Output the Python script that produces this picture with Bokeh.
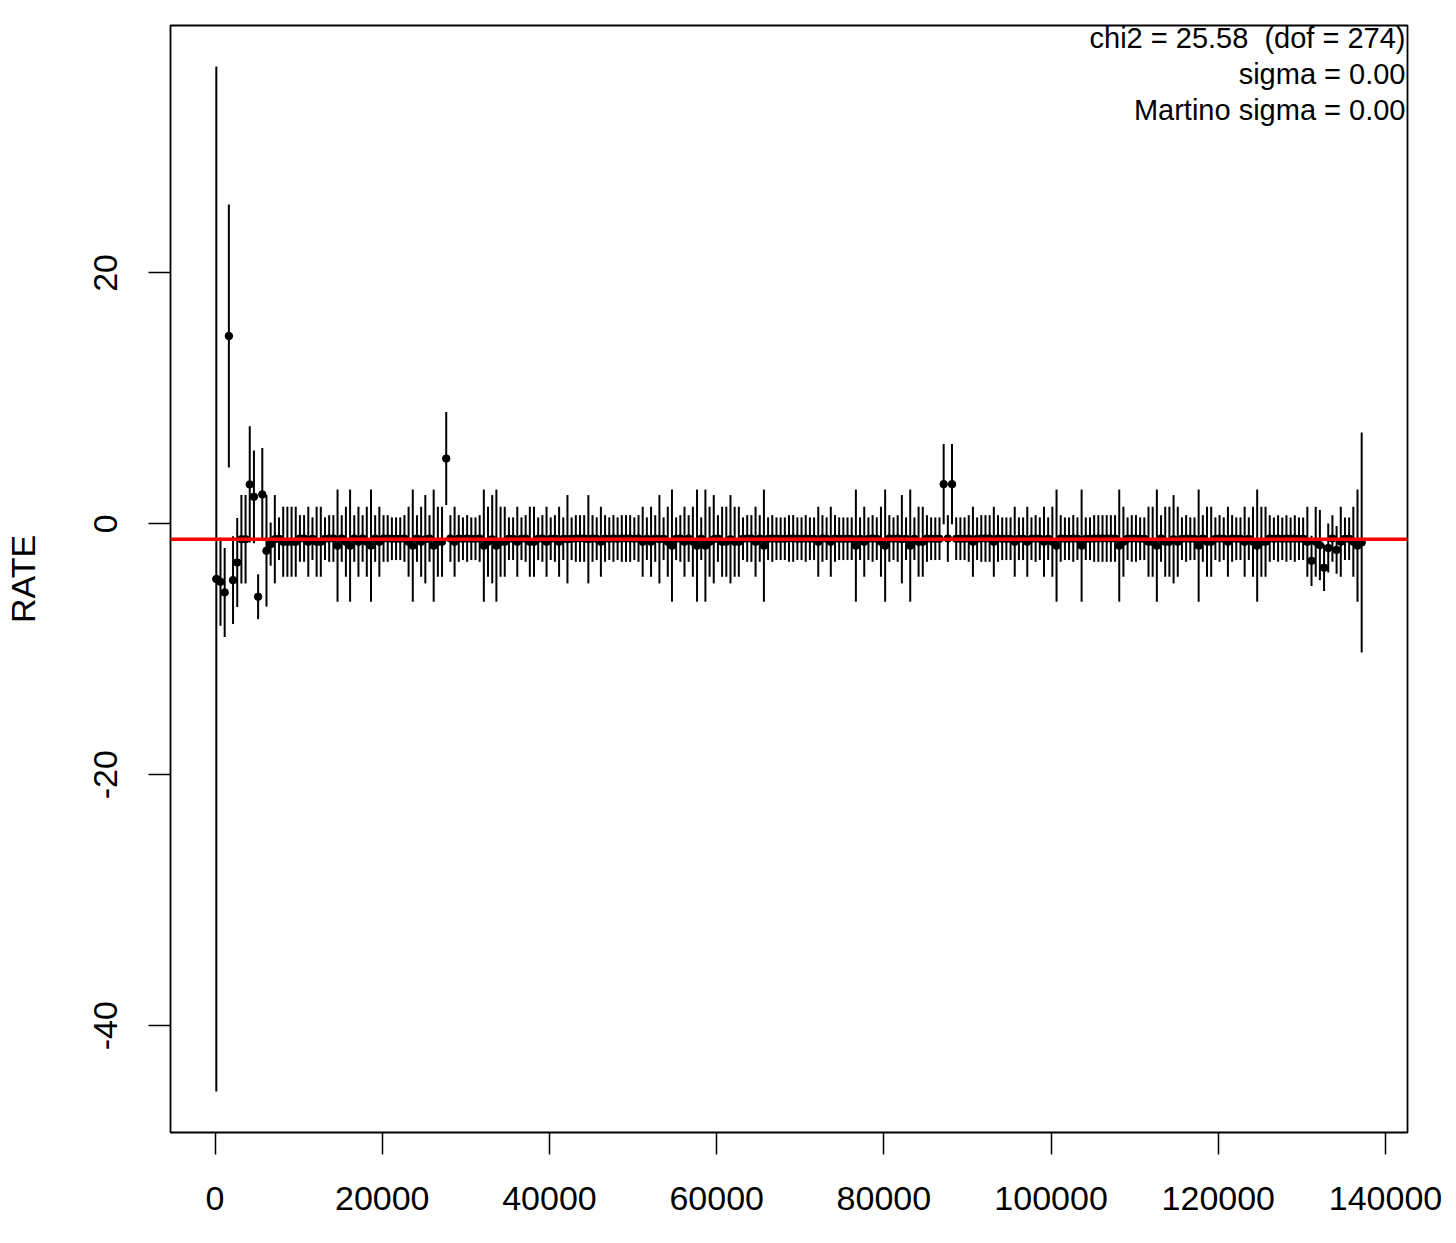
from bokeh.plotting import figure
from bokeh.models import Range1d, FixedTicker, Span, PrintfTickFormatter, ColumnDataSource
from bokeh.core.properties import value
from bokeh.embed import file_html
from bokeh.resources import INLINE

# ---- data ----
time_s = [
    150, 650, 1150, 1650, 2150, 2650, 3150, 3650, 4150, 4650,
    5150, 5650, 6150, 6650, 7150, 7650, 8150, 8650, 9150, 9650,
    10150, 10650, 11150, 11650, 12150, 12650, 13150, 13650, 14150, 14650,
    15150, 15650, 16150, 16650, 17150, 17650, 18150, 18650, 19150, 19650,
    20150, 20650, 21150, 21650, 22150, 22650, 23150, 23650, 24150, 24650,
    25150, 25650, 26150, 26650, 27150, 27650, 28150, 28650, 29150, 29650,
    30150, 30650, 31150, 31650, 32150, 32650, 33150, 33650, 34150, 34650,
    35150, 35650, 36150, 36650, 37150, 37650, 38150, 38650, 39150, 39650,
    40150, 40650, 41150, 41650, 42150, 42650, 43150, 43650, 44150, 44650,
    45150, 45650, 46150, 46650, 47150, 47650, 48150, 48650, 49150, 49650,
    50150, 50650, 51150, 51650, 52150, 52650, 53150, 53650, 54150, 54650,
    55150, 55650, 56150, 56650, 57150, 57650, 58150, 58650, 59150, 59650,
    60150, 60650, 61150, 61650, 62150, 62650, 63150, 63650, 64150, 64650,
    65150, 65650, 66150, 66650, 67150, 67650, 68150, 68650, 69150, 69650,
    70150, 70650, 71150, 71650, 72150, 72650, 73150, 73650, 74150, 74650,
    75150, 75650, 76150, 76650, 77150, 77650, 78150, 78650, 79150, 79650,
    80150, 80650, 81150, 81650, 82150, 82650, 83150, 83650, 84150, 84650,
    85150, 85650, 86150, 86650, 87150, 87650, 88150, 88650, 89150, 89650,
    90150, 90650, 91150, 91650, 92150, 92650, 93150, 93650, 94150, 94650,
    95150, 95650, 96150, 96650, 97150, 97650, 98150, 98650, 99150, 99650,
    100150, 100650, 101150, 101650, 102150, 102650, 103150, 103650, 104150, 104650,
    105150, 105650, 106150, 106650, 107150, 107650, 108150, 108650, 109150, 109650,
    110150, 110650, 111150, 111650, 112150, 112650, 113150, 113650, 114150, 114650,
    115150, 115650, 116150, 116650, 117150, 117650, 118150, 118650, 119150, 119650,
    120150, 120650, 121150, 121650, 122150, 122650, 123150, 123650, 124150, 124650,
    125150, 125650, 126150, 126650, 127150, 127650, 128150, 128650, 129150, 129650,
    130150, 130650, 131150, 131650, 132150, 132650, 133150, 133650, 134150, 134650,
    135150, 135650, 136150, 136650, 137150,
]

rate = [
    -4.40, -4.62, -5.47, 14.97, -4.49, -3.08, -1.23, -1.23, 3.14, 2.15,
    -5.81, 2.34, -2.15, -1.62, -1.23, -1.19, -1.43, -1.43, -1.43, -1.43,
    -1.17, -1.17, -1.43, -1.19, -1.43, -1.43, -1.19, -1.17, -1.17, -1.74,
    -1.17, -1.43, -1.74, -1.17, -1.43, -1.17, -1.43, -1.74, -1.17, -1.43,
    -1.17, -1.17, -1.19, -1.19, -1.19, -1.17, -1.43, -1.74, -1.17, -1.43,
    -1.23, -1.17, -1.74, -1.43, -1.43, 5.20, -1.17, -1.43, -1.17, -1.19,
    -1.17, -1.19, -1.19, -1.17, -1.74, -1.43, -1.23, -1.74, -1.43, -1.43,
    -1.19, -1.19, -1.43, -1.19, -1.17, -1.43, -1.43, -1.19, -1.17, -1.43,
    -1.19, -1.17, -1.43, -1.19, -1.23, -1.19, -1.17, -1.17, -1.17, -1.23,
    -1.17, -1.19, -1.43, -1.17, -1.19, -1.17, -1.19, -1.17, -1.17, -1.17,
    -1.19, -1.17, -1.43, -1.19, -1.43, -1.17, -1.23, -1.19, -1.43, -1.74,
    -1.19, -1.17, -1.43, -1.17, -1.43, -1.74, -1.19, -1.74, -1.43, -1.23,
    -1.17, -1.43, -1.43, -1.23, -1.43, -1.43, -1.19, -1.17, -1.17, -1.43,
    -1.17, -1.74, -1.19, -1.17, -1.19, -1.19, -1.19, -1.17, -1.17, -1.19,
    -1.19, -1.17, -1.19, -1.19, -1.43, -1.17, -1.19, -1.43, -1.17, -1.19,
    -1.19, -1.19, -1.19, -1.74, -1.19, -1.43, -1.19, -1.17, -1.19, -1.43,
    -1.74, -1.17, -1.19, -1.17, -1.23, -1.19, -1.74, -1.19, -1.43, -1.43,
    -1.17, -1.19, -1.19, -1.19, 3.16, -1.17, 3.16, -1.19, -1.19, -1.19,
    -1.17, -1.43, -1.19, -1.17, -1.17, -1.17, -1.43, -1.17, -1.19, -1.19,
    -1.19, -1.43, -1.19, -1.19, -1.43, -1.19, -1.17, -1.19, -1.43, -1.19,
    -1.43, -1.74, -1.17, -1.19, -1.19, -1.17, -1.19, -1.74, -1.19, -1.19,
    -1.17, -1.17, -1.17, -1.17, -1.17, -1.17, -1.74, -1.43, -1.19, -1.17,
    -1.17, -1.19, -1.19, -1.43, -1.43, -1.74, -1.17, -1.43, -1.43, -1.23,
    -1.43, -1.19, -1.17, -1.19, -1.19, -1.74, -1.17, -1.43, -1.43, -1.19,
    -1.17, -1.19, -1.43, -1.17, -1.19, -1.19, -1.43, -1.19, -1.43, -1.74,
    -1.43, -1.43, -1.17, -1.19, -1.17, -1.19, -1.17, -1.19, -1.17, -1.19,
    -1.19, -1.43, -2.95, -1.43, -1.70, -3.50, -1.93, -1.17, -2.08, -1.43,
    -1.19, -1.19, -1.43, -1.74, -1.49,
]

rate_err = [
    40.85, 3.50, 3.55, 10.48, 3.50, 3.55, 3.52, 3.52, 4.64, 3.70,
    1.79, 3.70, 4.45, 1.72, 3.52, 1.70, 2.79, 2.79, 2.79, 2.79,
    1.86, 1.86, 2.79, 1.70, 2.79, 2.79, 1.70, 1.86, 1.86, 4.47,
    1.86, 2.79, 4.47, 1.86, 2.79, 1.86, 2.79, 4.47, 1.86, 2.79,
    1.86, 1.86, 1.70, 1.70, 1.70, 1.86, 2.79, 4.47, 1.86, 2.79,
    3.52, 1.86, 4.47, 2.79, 2.79, 3.71, 1.86, 2.79, 1.86, 1.70,
    1.86, 1.70, 1.70, 1.86, 4.47, 2.79, 3.52, 4.47, 2.79, 2.79,
    1.70, 1.70, 2.79, 1.70, 1.86, 2.79, 2.79, 1.70, 1.86, 2.79,
    1.70, 1.86, 2.79, 1.70, 3.52, 1.70, 1.86, 1.86, 1.86, 3.52,
    1.86, 1.70, 2.79, 1.86, 1.70, 1.86, 1.70, 1.86, 1.86, 1.86,
    1.70, 1.86, 2.79, 1.70, 2.79, 1.86, 3.52, 1.70, 2.79, 4.47,
    1.70, 1.86, 2.79, 1.86, 2.79, 4.47, 1.70, 4.47, 2.79, 3.52,
    1.86, 2.79, 2.79, 3.52, 2.79, 2.79, 1.70, 1.86, 1.86, 2.79,
    1.86, 4.47, 1.70, 1.86, 1.70, 1.70, 1.70, 1.86, 1.86, 1.70,
    1.70, 1.86, 1.70, 1.70, 2.79, 1.86, 1.70, 2.79, 1.86, 1.70,
    1.70, 1.70, 1.70, 4.47, 1.70, 2.79, 1.70, 1.86, 1.70, 2.79,
    4.47, 1.86, 1.70, 1.86, 3.52, 1.70, 4.47, 1.70, 2.79, 2.79,
    1.86, 1.70, 1.70, 1.70, 3.20, 1.86, 3.20, 1.70, 1.70, 1.70,
    1.86, 2.79, 1.70, 1.86, 1.86, 1.86, 2.79, 1.86, 1.70, 1.70,
    1.70, 2.79, 1.70, 1.70, 2.79, 1.70, 1.86, 1.70, 2.79, 1.70,
    2.79, 4.47, 1.86, 1.70, 1.70, 1.86, 1.70, 4.47, 1.70, 1.70,
    1.86, 1.86, 1.86, 1.86, 1.86, 1.86, 4.47, 2.79, 1.70, 1.86,
    1.86, 1.70, 1.70, 2.79, 2.79, 4.47, 1.86, 2.79, 2.79, 3.52,
    2.79, 1.70, 1.86, 1.70, 1.70, 4.47, 1.86, 2.79, 2.79, 1.70,
    1.86, 1.70, 2.79, 1.86, 1.70, 1.70, 2.79, 1.70, 2.79, 4.47,
    2.79, 2.79, 1.86, 1.70, 1.86, 1.70, 1.86, 1.70, 1.86, 1.70,
    1.70, 2.79, 2.00, 2.79, 2.80, 1.85, 1.96, 1.86, 1.90, 2.79,
    1.70, 1.70, 2.79, 4.47, 8.77,
]

mean_rate = -1.24
x_ticks = [0, 20000, 40000, 60000, 80000, 100000, 120000, 140000]
y_ticks = [-40, -20, 0, 20]
y_label = "RATE"
stats_lines = ["chi2 = 25.58 \u00a0(dof = 274)", "sigma = 0.00", "Martino sigma = 0.00"]

# ---- layout ----
FRAME_W, FRAME_H = 1237, 1107
FONT = "Liberation Sans"

lo = [r - e for r, e in zip(rate, rate_err)]
hi = [r + e for r, e in zip(rate, rate_err)]
xmin, xmax = min(time_s), max(time_s)
xpad = 0.04 * (xmax - xmin)
x0, x1 = xmin - xpad, xmax + xpad
ymin, ymax = min(lo), max(hi)
ypad = 0.04 * (ymax - ymin)
y0, y1 = ymin - ypad, ymax + ypad

p = figure(
    frame_width=FRAME_W, frame_height=FRAME_H,
    x_range=Range1d(x0, x1), y_range=Range1d(y0, y1),
    output_backend="svg", toolbar_location=None,
    min_border_left=150, min_border_right=43,
    min_border_top=25, min_border_bottom=100,
    background_fill_color="white", border_fill_color="white",
)
p.xgrid.visible = False
p.ygrid.visible = False
p.outline_line_color = "black"
p.outline_line_width = 1.8
p.outline_line_alpha = 1.0

for ax in (p.xaxis[0], p.yaxis[0]):
    ax.axis_line_color = None
    ax.major_tick_out = 22
    ax.major_tick_in = 0
    ax.minor_tick_line_color = None
    ax.major_tick_line_color = "black"
    ax.major_tick_line_width = 1.5
    ax.major_label_text_font = FONT
    ax.major_label_text_font_size = "34px"
    ax.major_label_text_color = "black"
    ax.formatter = PrintfTickFormatter(format="%d")

p.xaxis[0].ticker = FixedTicker(ticks=x_ticks)
p.yaxis[0].ticker = FixedTicker(ticks=y_ticks)
p.xaxis[0].major_label_standoff = 32
p.yaxis[0].major_label_standoff = 31
p.yaxis[0].major_label_orientation = "vertical"
p.yaxis[0].axis_label = y_label
p.yaxis[0].axis_label_text_font = FONT
p.yaxis[0].axis_label_text_font_size = "34px"
p.yaxis[0].axis_label_text_font_style = "normal"
p.yaxis[0].axis_label_text_color = "black"
p.yaxis[0].axis_label_standoff = 50

src = ColumnDataSource(dict(t=time_s, rate=rate, lo=lo, hi=hi))
p.segment(x0="t", y0="lo", x1="t", y1="hi", source=src, line_color="black", line_width=2)
p.scatter("t", "rate", source=src, size=7.5, color="black")

p.add_layout(Span(location=mean_rate, dimension="width", line_color="red", line_width=3.5))

dx = (x1 - x0) / FRAME_W
dy = (y1 - y0) / FRAME_H
p.text(
    x=[x1 - 2 * dx] * 3,
    y=[y1 - 12 * dy, y1 - 48 * dy, y1 - 84 * dy],
    text=stats_lines,
    text_align="right", text_baseline="alphabetic",
    text_font=value(FONT), text_font_size="29px", text_color="black",
)

open("out.html", "w").write(file_html(p, INLINE))
